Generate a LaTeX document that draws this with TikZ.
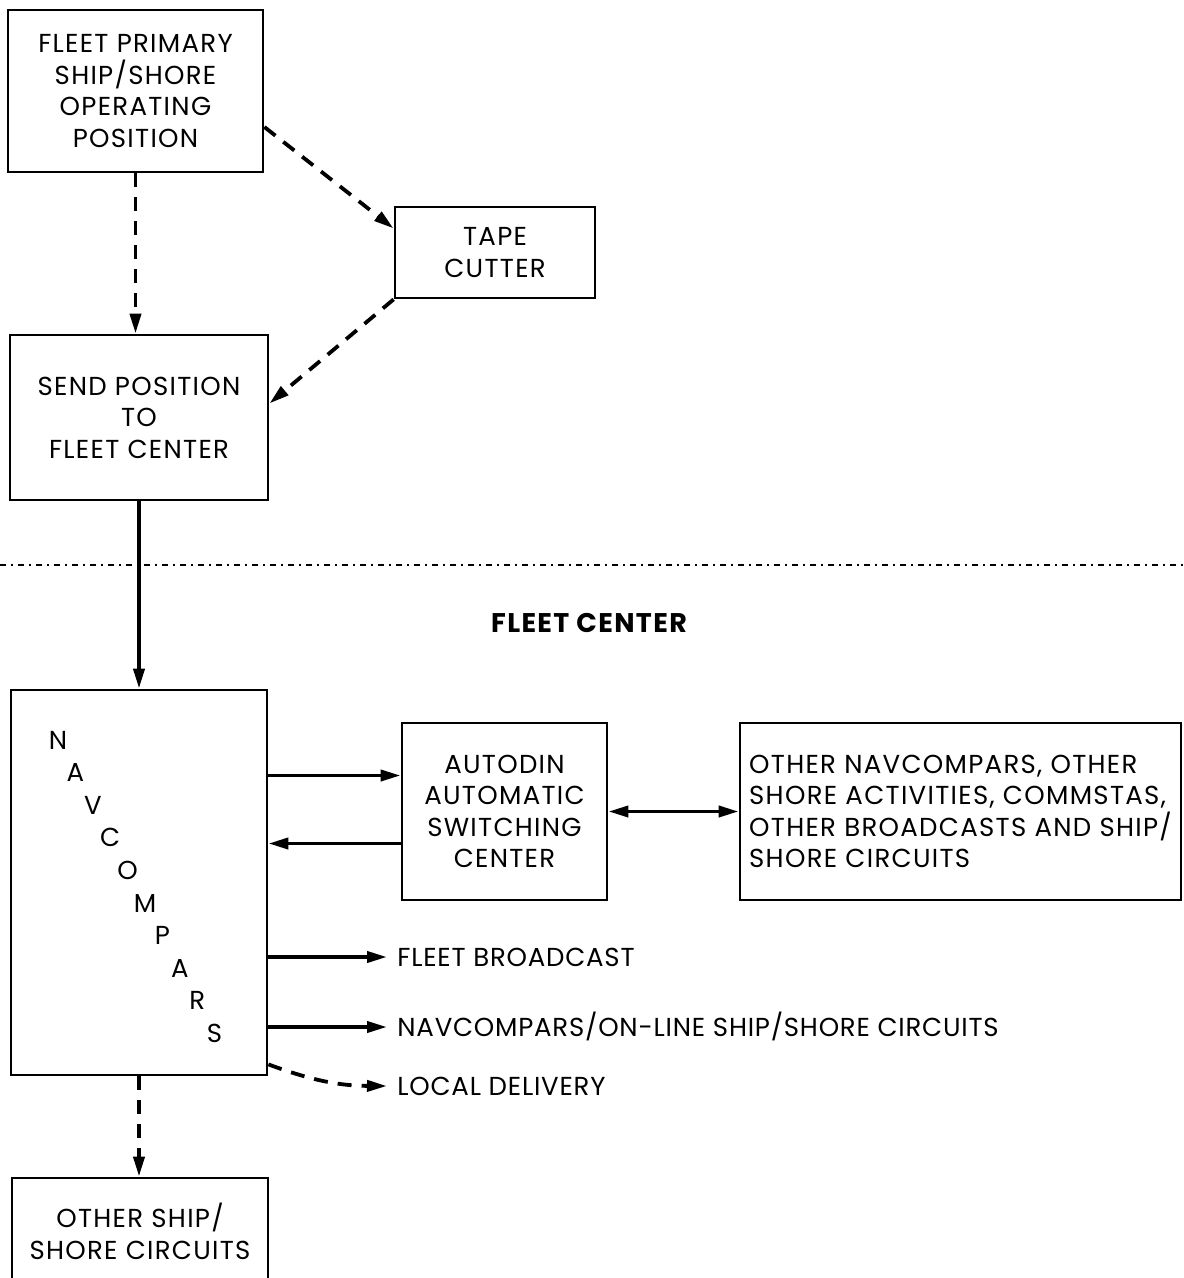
\documentclass[tikz,border=0pt]{standalone}
\usepackage{fontspec}
\setmainfont{Poppins}[LetterSpace=5]
\usetikzlibrary{arrows.meta,calc}

\begin{document}
\begin{tikzpicture}[
  x=0.5pt, y=-0.5pt,
  flowbox/.style={
    rectangle, draw, line width=1.4pt,
    inner sep=0pt, align=center,
    font=\fontsize{13}{15.8}\selectfont,
  },
  flowline/.style={line width=1.9pt, -{Triangle[length=10pt,width=5.5pt]}},
  dashflow/.style={flowline, dash pattern=on 7pt off 5pt},
  outlabel/.style={
    anchor=west, inner sep=5pt,
    font=\fontsize{13}{15.8}\selectfont\addfontfeatures{LetterSpace=3},
    text height=9pt, text depth=0pt,
  },
  letter/.style={font=\fontsize{13}{15.8}\selectfont, inner sep=0pt},
  sepline/.style={line width=1.4pt, dash pattern=on 3pt off 2.5pt on 1pt off 2.5pt},
]
\useasboundingbox (0,0) rectangle (1183,1278);

% Upper part
\node[flowbox, minimum width=127.5pt, minimum height=81pt] (prim) at (135.5, 91)
  {FLEET PRIMARY\\SHIP/SHORE\\OPERATING\\POSITION};
\node[flowbox, minimum width=100pt, minimum height=45.5pt] (tape) at (495, 252.5)
  {TAPE\\CUTTER};
\node[flowbox, minimum width=129pt, minimum height=82.5pt] (send) at (139, 417.5)
  {SEND POSITION\\TO\\FLEET CENTER};

% Separator
\draw[sepline] (0, 565) -- (1183, 565);
\node[font=\fontsize{13.5}{15}\selectfont\bfseries] (fc) at (589, 623) {FLEET CENTER};

% Fleet center
\node[flowbox, minimum width=128pt, minimum height=192.5pt] (navc) at (139, 882.5) {};
\foreach \ch [count=\i from 0] in {N,A,V,C,O,M,P,A,R,S}
  \node[letter] (l\i) at ({58+17.4*\i}, {740+32.6*\i}) {\ch};
\node[flowbox, minimum width=102.5pt, minimum height=88.5pt] (auto) at (504.5, 811.5)
  {AUTODIN\\AUTOMATIC\\SWITCHING\\CENTER};
\node[flowbox, minimum width=220.5pt, minimum height=88.5pt, align=left] (other) at (960.5, 811.5)
  {OTHER NAVCOMPARS, OTHER\\SHORE ACTIVITIES, COMMSTAS,\\OTHER BROADCASTS AND SHIP/\\SHORE CIRCUITS};
\node[flowbox, minimum width=128pt, minimum height=53.5pt] (oship) at (140, 1231.5)
  {OTHER SHIP/\\SHORE CIRCUITS};

\node[outlabel] (bcast) at (387, 957) {FLEET BROADCAST};
\node[outlabel] (online) at (387, 1027) {NAVCOMPARS/ON-LINE SHIP/SHORE CIRCUITS};
\node[outlabel] (local) at (387, 1086) {LOCAL DELIVERY};

\coordinate (ain) at ([yshift=18pt]auto.west);
\coordinate (aout) at ([yshift=-16pt]auto.west);

% Connectors
\draw[dashflow] (prim.south) -- (prim.south |- send.north);
\draw[dashflow] ([yshift=-18pt]prim.east) -- ([yshift=12pt]tape.west);
\draw[dashflow] (tape.south west) -- ([yshift=7pt]send.east);
\draw[flowline] (send.south) -- (send.south |- navc.north);
\draw[flowline] (ain -| navc.east) -- (ain);
\draw[flowline] (aout) -- (aout -| navc.east);
\draw[flowline, {Triangle[length=10pt,width=5.5pt]}-{Triangle[length=10pt,width=5.5pt]}] (auto.east) -- (other.west);
\draw[flowline] (bcast.west -| navc.east) -- (bcast.west);
\draw[flowline] (online.west -| navc.east) -- (online.west);
\draw[dashflow] ([yshift=6pt]navc.south east) to[bend right=10] (local.west);
\draw[dashflow] (navc.south) -- (navc.south |- oship.north);

\end{tikzpicture}
\end{document}
